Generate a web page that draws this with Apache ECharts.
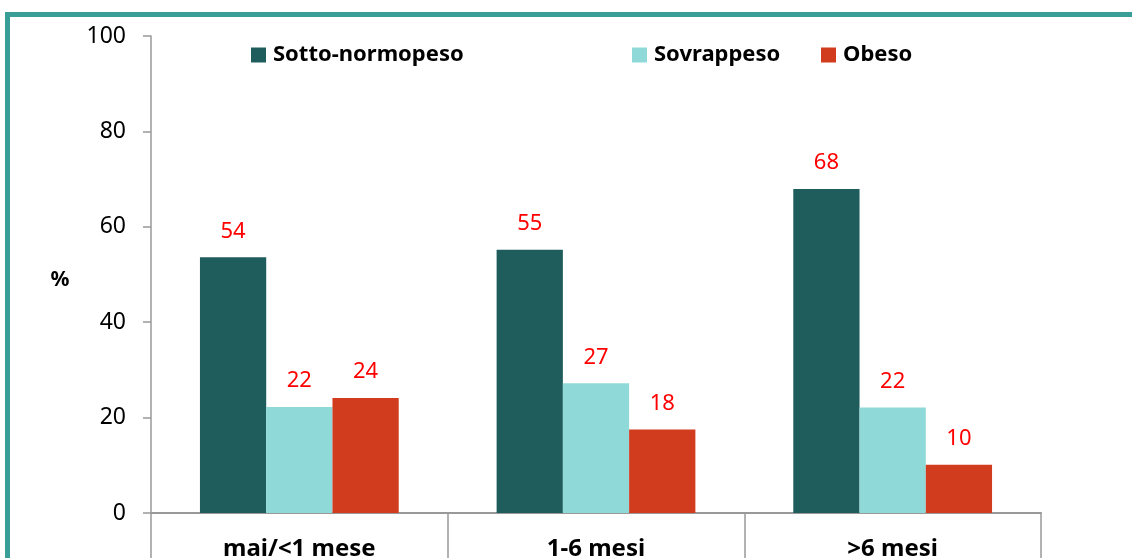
<!DOCTYPE html>
<html lang="it">
<head>
    <meta charset="UTF-8">
    <title>Grafico</title>
    <script src="https://cdn.jsdelivr.net/npm/echarts@6/dist/echarts.min.js"></script>
    <style>
        body { margin: 0; background: #fff; }
        #main { width: 1132px; height: 558px; }
    </style>
</head>
<body>
    <div id="main"></div>
    <script type="text/javascript">
        // dati
        const categories = ['mai/<1 mese', '1-6 mesi', '>6 mesi'];
        const seriesNames = ['Sotto-normopeso', 'Sovrappeso', 'Obeso'];
        const sottoNormo = [53.6, 55.2, 67.9];
        const sovrappeso = [22.2, 27.2, 22.1];
        const obeso = [24.1, 17.5, 10.1];
        const yTicks = [0, 20, 40, 60, 80, 100];
        const yName = '%';

        const colors = ['#1f5c5c', '#8fdad8', '#d13b1e'];
        const font = '"Noto Sans", sans-serif';

        var myChart = echarts.init(document.getElementById('main'));

        function makeLegend(name, left) {
            return {
                left: left,
                top: 44,
                padding: 0,
                icon: 'rect',
                itemWidth: 15,
                itemHeight: 15,
                data: [name],
                textStyle: { fontFamily: font, fontSize: 22, fontWeight: 'bold', color: '#000', padding: [0, 0, 0, 2] }
            };
        }

        function makeSeries(name, data, color) {
            return {
                name: name,
                type: 'bar',
                data: data,
                barGap: '0%',
                barCategoryGap: '33%',
                itemStyle: { color: color },
                label: {
                    show: true,
                    position: 'top',
                    distance: 15,
                    color: '#ff0000',
                    fontFamily: font,
                    fontSize: 22,
                    formatter: (p) => Math.round(p.value)
                }
            };
        }

        const option = {
            animation: false,
            color: colors,
            legend: [
                makeLegend(seriesNames[0], 251),
                makeLegend(seriesNames[1], 632),
                makeLegend(seriesNames[2], 821)
            ],
            grid: { left: 151, right: 91, top: 36, bottom: 45, outerBoundsMode: 'none', containLabel: false },
            xAxis: {
                type: 'category',
                data: categories,
                axisLine: { lineStyle: { color: '#999', width: 2 } },
                axisTick: { show: true, alignWithLabel: false, length: 50, lineStyle: { color: '#999', width: 1.5 } },
                axisLabel: {
                    margin: 24,
                    color: '#000',
                    fontFamily: font,
                    fontSize: 24,
                    fontWeight: 'bold'
                }
            },
            yAxis: {
                type: 'value',
                min: yTicks[0],
                max: yTicks[yTicks.length - 1],
                interval: 20,
                axisLine: { show: true, lineStyle: { color: '#999', width: 1.5 } },
                axisTick: { show: true, length: 8, lineStyle: { color: '#999', width: 1.5 } },
                splitLine: { show: false },
                axisLabel: { margin: 25, color: '#000', fontFamily: font, fontSize: 23 }
            },
            graphic: [
                { type: 'rect', shape: { x: 5, y: 12, width: 1127, height: 5 }, style: { fill: '#3a9e98' } },
                { type: 'rect', shape: { x: 5, y: 12, width: 5, height: 546 }, style: { fill: '#3a9e98' } },
                {
                    type: 'text', x: 60, y: 280,
                    style: { text: yName, align: 'center', verticalAlign: 'middle', fill: '#000', font: 'bold 21px "Noto Sans", sans-serif' }
                }
            ],
            series: [
                makeSeries(seriesNames[0], sottoNormo, colors[0]),
                makeSeries(seriesNames[1], sovrappeso, colors[1]),
                makeSeries(seriesNames[2], obeso, colors[2])
            ]
        };

        myChart.setOption(option);
    </script>
</body>
</html>
